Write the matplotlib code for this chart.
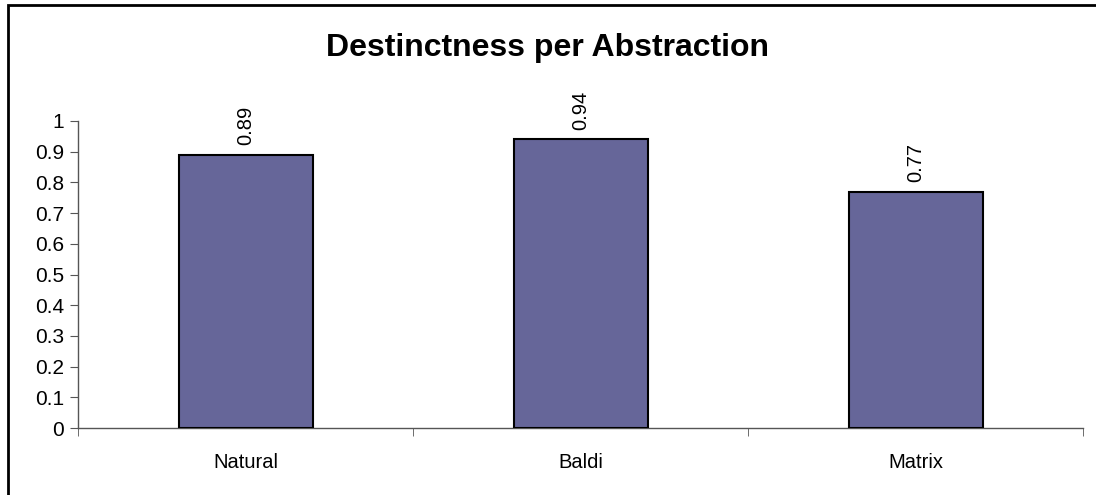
import matplotlib.pyplot as plt
from matplotlib.patches import Rectangle

categories = ['Natural', 'Baldi', 'Matrix']
values = [0.89, 0.94, 0.77]
yticks = [0, 0.1, 0.2, 0.3, 0.4, 0.5, 0.6, 0.7, 0.8, 0.9, 1]
ytick_labels = ['0', '0.1', '0.2', '0.3', '0.4', '0.5', '0.6', '0.7', '0.8', '0.9', '1']

plt.rcParams['font.family'] = ['Liberation Sans', 'DejaVu Sans']

fig = plt.figure(figsize=(10.96, 4.95), dpi=100)
# outer frame (only top and left edges fall inside the image)
fig.patches.append(Rectangle((8 / 1096, -0.5), 2, 1.5 - 5 / 495, transform=fig.transFigure,
                             fill=False, edgecolor='black', linewidth=2))

ax = fig.add_axes([78 / 1096, 67 / 495, 1005 / 1096, 307 / 495])
x = range(len(categories))
ax.bar(x, values, width=0.4, color='#666699', edgecolor='black', linewidth=1.5, zorder=3)

for i, v in enumerate(values):
    ax.annotate(str(v), (i, v), xytext=(0, 7), textcoords='offset points',
                rotation=90, ha='center', va='bottom', fontsize=14.5)

ax.set_xlim(-0.5, len(categories) - 0.5)
ax.set_ylim(0, 1)
ax.set_yticks(yticks)
ax.set_yticklabels(ytick_labels, fontsize=15)
ax.set_xticks(list(x))
ax.set_xticklabels(categories, fontsize=14.5)
ax.tick_params(axis='x', which='major', length=0, pad=18)
ax.set_xticks([-0.5, 0.5, 1.5, 2.5], minor=True)
ax.tick_params(axis='x', which='minor', length=6, color='#555555', direction='out')
ax.tick_params(axis='y', length=6, color='#555555', direction='out', pad=4)

for s in ['top', 'right']:
    ax.spines[s].set_visible(False)
for s in ['left', 'bottom']:
    ax.spines[s].set_color('#555555')
    ax.spines[s].set_linewidth(1)

fig.text(0.5, 1 - 48 / 495, 'Destinctness per Abstraction', ha='center', va='center',
         fontsize=23, fontweight='bold')

fig.savefig('out.png', dpi=100)
